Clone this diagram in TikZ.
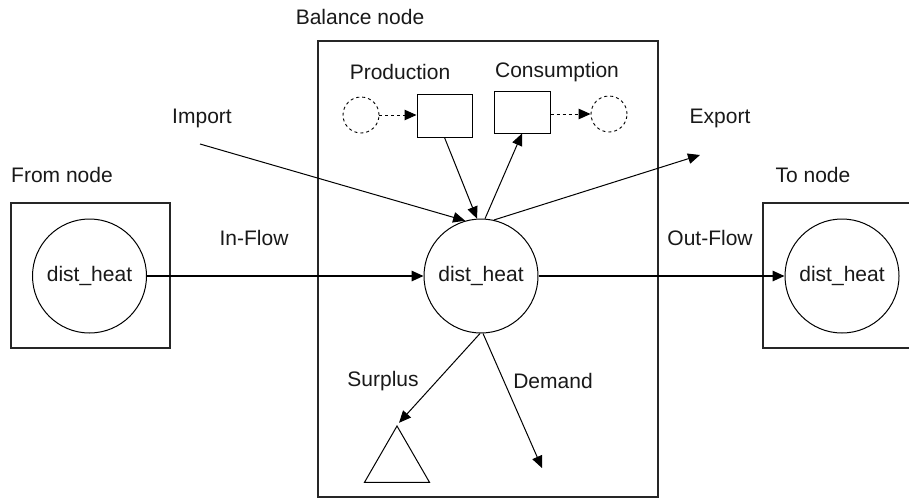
\documentclass[tikz,border=0pt]{standalone}
\usepackage{fontspec}
\setmainfont{Liberation Sans}
\usetikzlibrary{arrows.meta,shapes.geometric}
\tikzset{
  every node/.style={font=\fontsize{21}{24}\selectfont, text=black!90},
  region/.style={draw=black!85, line width=1.2pt, rectangle, inner sep=0pt},
  carrier/.style={draw, circle, line width=1pt, minimum size=114pt, inner sep=0pt},
  ghost/.style={draw, dashed, circle, line width=0.9pt, minimum size=36pt, inner sep=0pt},
  unitbox/.style={draw, rectangle, line width=1pt, inner sep=0pt},
  flow/.style={line width=1pt, -{Triangle[length=12pt,width=10.5pt]}},
  bold flow/.style={line width=1.6pt, -{Triangle[length=12pt,width=10.5pt]}},
  dflow/.style={line width=1pt, dashed, -{Triangle[length=12pt,width=10.5pt]}},
  tag/.style={inner sep=0pt}
}
\begin{document}
\begin{tikzpicture}[x=1pt,y=-1pt]
\useasboundingbox[fill=white] (0,0) rectangle (909,499);

% outer regions
\node[region, minimum width=159pt, minimum height=145pt] (fromBox) at (90.5,275.5) {};
\node[region, minimum width=159pt, minimum height=145pt] (toBox) at (842.5,275.5) {};
\node[region, minimum width=340pt, minimum height=456pt] (balBox) at (488,269) {};

% region captions
\node[tag] (lblBal) at (360,17) {Balance node};
\node[tag] (lblFrom) at (62,175) {From node};
\node[tag] (lblTo) at (813,175) {To node};

% commodity nodes
\node[carrier] (fromC) at (89.5,276) {dist\_heat};
\node[carrier] (balC) at (481,276) {dist\_heat};
\node[carrier] (toC) at (842,276) {dist\_heat};

% production and consumption units
\node[unitbox, minimum width=55pt, minimum height=43pt] (prod) at (444.5,115.5) {};
\node[unitbox, minimum width=56pt, minimum height=42pt] (cons) at (522,112) {};
\node[ghost] (srcG) at (361,115) {};
\node[ghost] (snkG) at (609,114) {};
\node[tag] (lblProd) at (400,72) {Production};
\node[tag] (lblCons) at (557,72) {Consumption};

\draw[dflow] (srcG.east) -- (srcG.east -| prod.west);
\draw[dflow] (cons.east |- snkG.west) -- (snkG.west);
\draw[flow] (prod.south) -- (balC.94);
\draw[flow] (balC.86) -- (cons.south);

% import / export
\coordinate (impStart) at (200,144);
\coordinate (expEnd) at (700,155);
\node[tag] (lblImp) at (202,118) {Import};
\node[tag] (lblExp) at (720,118) {Export};
\draw[flow] (impStart) -- (balC.106);
\draw[flow] (balC.77) -- (expEnd);

% inter-node flows
\node[tag] (lblIn) at (254,238) {In-Flow};
\node[tag] (lblOut) at (710,238) {Out-Flow};
\draw[bold flow] (fromC.east) -- (balC.west);
\draw[bold flow] (balC.east) -- (toC.west);

% surplus and demand
\node[draw, regular polygon, regular polygon sides=3, minimum size=75pt, inner sep=0pt, line width=1pt] (surplus) at (397,463.5) {};
\coordinate (demEnd) at (542,468);
\node[tag] (lblSur) at (383,381) {Surplus};
\node[tag] (lblDem) at (553,381) {Demand};
\draw[flow, shorten >=3pt] (balC.-91) -- (surplus.corner 1);
\draw[flow] (balC.-88) -- (demEnd);
\end{tikzpicture}
\end{document}
